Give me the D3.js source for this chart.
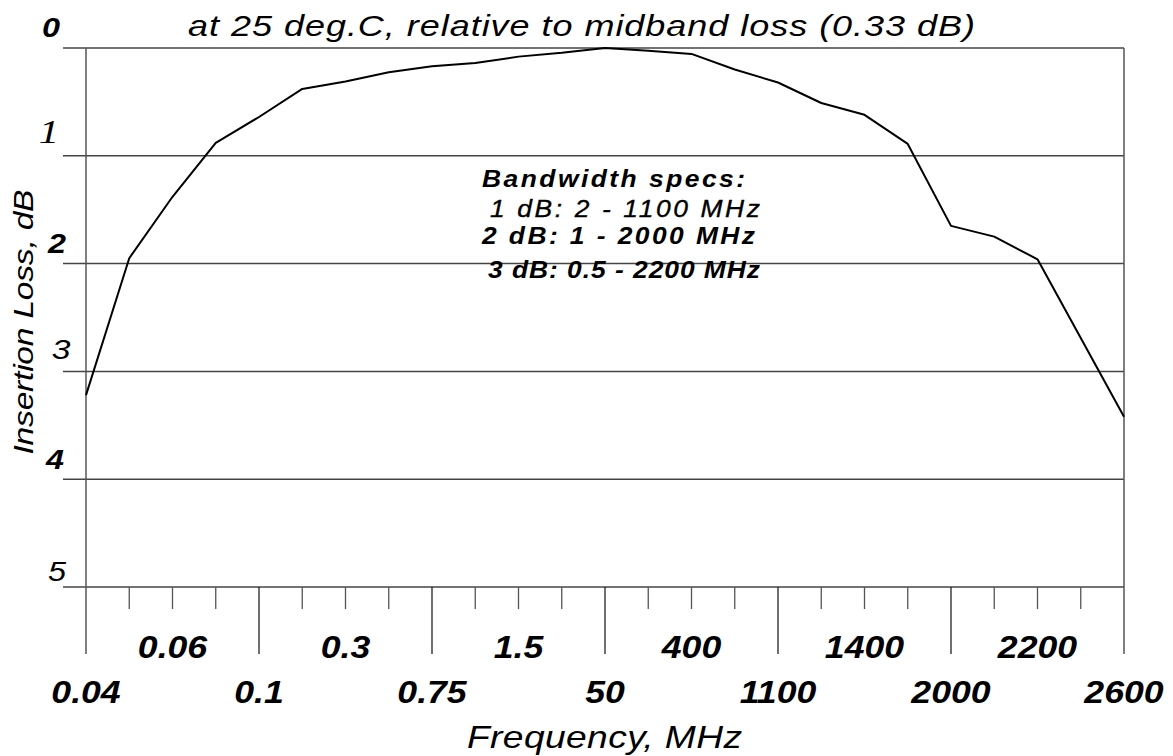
<!DOCTYPE html>
<html>
<head>
<meta charset="utf-8">
<script src="https://cdn.jsdelivr.net/npm/d3@7"></script>
<style>
  body { margin: 0; background: #fff; }
  svg { display: block; font-family: "Liberation Sans", Arial, sans-serif; }
</style>
</head>
<body>
<div id="chart"></div>
<script>
// insertion loss (dB below midband), one value per tick along the frequency axis
const lossDb = [3.22, 1.95, 1.38, 0.88, 0.64, 0.38, 0.31, 0.225, 0.17, 0.14, 0.08, 0.045, 0,
                0.025, 0.055, 0.2, 0.32, 0.51, 0.62, 0.89, 1.65, 1.75, 1.96, 2.69, 3.42];
// labels sit on every other tick
const freqLabels = ['0.04', '0.06', '0.1', '0.3', '0.75', '1.5', '50', '400', '1100', '1400', '2000', '2200', '2600'];
const yTicks = [0, 1, 2, 3, 4, 5];
const specLines = ['Bandwidth specs:', '1 dB: 2 - 1100 MHz', '2 dB: 1 - 2000 MHz', '3 dB: 0.5 - 2200 MHz'];
const titleText = 'at 25 deg.C, relative to midband loss (0.33 dB)';

const W = 1173, H = 756;
const plotL = 86, plotR = 1124, plotT = 48, plotB = 587;
const SX = 1.2; // the source font is drawn wider than Arial

const svg = d3.select('#chart').append('svg')
    .attr('width', W)
    .attr('height', H);

const x = d3.scaleLinear().domain([0, lossDb.length - 1]).range([plotL, plotR]);
const y = d3.scaleLinear().domain([0, 5]).range([plotT, plotB]);

// text drawn in a horizontally stretched frame
function wideText(parent, tx, ty, str, opts) {
    const sx = opts.sx || SX;
    const t = parent.append('text')
        .attr('transform', `translate(${tx},${ty}) ${opts.rot ? 'rotate(-90)' : ''} scale(${sx},1)`)
        .attr('font-size', opts.size)
        .attr('font-style', 'italic')
        .attr('font-weight', opts.weight || 'normal')
        .attr('text-anchor', opts.anchor || 'start')
        .text(str);
    if (opts.len) t.attr('textLength', opts.len / sx).attr('lengthAdjust', 'spacing');
    if (opts.family) t.attr('font-family', opts.family);
    if (opts.stroke) t.attr('stroke', '#000').attr('stroke-width', opts.stroke);
    return t;
}

// horizontal grid
svg.append('g')
    .selectAll('line')
    .data(yTicks)
    .enter().append('line')
    .attr('x1', 63).attr('x2', plotR)
    .attr('y1', d => y(d)).attr('y2', d => y(d))
    .attr('stroke', '#444').attr('stroke-width', 1.5);

// side frame lines
svg.append('g')
    .selectAll('line')
    .data([0, lossDb.length - 1])
    .enter().append('line')
    .attr('x1', d => x(d)).attr('x2', d => x(d))
    .attr('y1', plotT).attr('y2', 654)
    .attr('stroke', '#555').attr('stroke-width', 1.5);

// x ticks: long ones every 4th
svg.append('g')
    .selectAll('line')
    .data(d3.range(1, lossDb.length - 1))
    .enter().append('line')
    .attr('x1', d => x(d)).attr('x2', d => x(d))
    .attr('y1', plotB).attr('y2', d => d % 4 === 0 ? 654 : 609)
    .attr('stroke', d => d % 4 === 0 ? '#222' : '#555').attr('stroke-width', 1.3);

// x tick labels, two staggered rows
const xLab = svg.append('g');
freqLabels.forEach((d, i) => {
    wideText(xLab, x(i * 2), i % 2 === 0 ? 703 : 658, d,
        {size: 31, weight: 'bold', anchor: 'middle', sx: 1.15});
});

// y tick labels (original mixes fonts)
const yStyle = [
    {fam: '"Liberation Sans"', w: 'bold', s: 27, dx: 51, dy: -11},
    {fam: '"Liberation Serif"', w: 'normal', s: 34, dx: 49, dy: -13},
    {fam: '"Liberation Sans"', w: 'bold', s: 27, dx: 57, dy: -11},
    {fam: '"Liberation Sans"', w: 'normal', s: 28, dx: 61, dy: -12},
    {fam: '"Liberation Sans"', w: 'bold', s: 27, dx: 55, dy: -10},
    {fam: '"Liberation Sans"', w: 'normal', s: 27, dx: 57, dy: -6}
];
const yLab = svg.append('g');
yTicks.forEach((d, i) => {
    const st = yStyle[i];
    wideText(yLab, st.dx, y(d) + st.dy, d, {size: st.s, weight: st.w, anchor: 'middle', family: st.fam});
});

// loss curve
const line = d3.line()
    .x((d, i) => x(i))
    .y(d => y(d));

svg.append('path')
    .datum(lossDb)
    .attr('d', line)
    .attr('fill', 'none')
    .attr('stroke', '#000')
    .attr('stroke-width', 2)
    .attr('stroke-linejoin', 'round');

// title
wideText(svg, 188, 36, titleText, {size: 30, len: 787});

// bandwidth note
const specPos = [
    {x: 482, y: 187, len: 263, w: 'bold'},
    {x: 490, y: 217, len: 270, w: 'normal', stroke: 0.35},
    {x: 482, y: 244, len: 273, w: 'bold'},
    {x: 488, y: 278, len: 272, w: 'bold'}
];
specLines.forEach((d, i) => {
    const p = specPos[i];
    wideText(svg, p.x, p.y, d, {size: 24, weight: p.w, len: p.len, stroke: p.stroke, sx: 1.1});
});

// axis titles
wideText(svg, 467, 748, 'Frequency, MHz', {size: 31, len: 275});
wideText(svg, 33, 322, 'Insertion Loss, dB', {size: 28, len: 265, anchor: 'middle', rot: true});
</script>
</body>
</html>
